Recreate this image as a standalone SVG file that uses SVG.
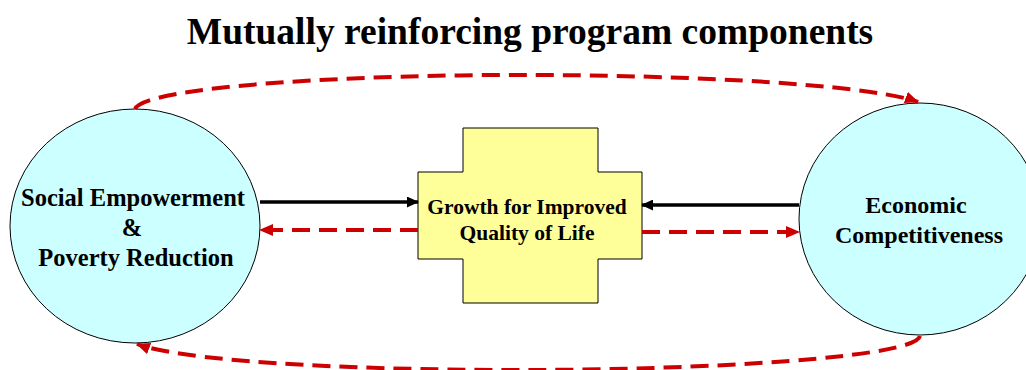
<svg xmlns="http://www.w3.org/2000/svg" width="1026" height="370" viewBox="0 0 1026 370">
<style>
.t{font-family:"Liberation Serif","Times New Roman",serif;font-weight:bold;fill:#000;text-anchor:middle}
.red{fill:none;stroke:#CC0000;stroke-width:4;stroke-dasharray:18 9}
.blk{fill:none;stroke:#000;stroke-width:3.5}
.node{stroke:#000;stroke-width:1}
</style>
<defs>
<marker id="ar" markerUnits="userSpaceOnUse" markerWidth="14" markerHeight="12" refX="13" refY="6" orient="auto">
<path d="M0,0 L14,6 L0,12 Z" fill="#CC0000"/>
</marker>
<marker id="ab" markerUnits="userSpaceOnUse" markerWidth="12" markerHeight="11" refX="11" refY="5.5" orient="auto">
<path d="M0,0 L12,5.5 L0,11 Z" fill="#000"/>
</marker>
</defs>
<rect width="1026" height="370" fill="#fff"/>
<text class="t" x="530" y="44" font-size="37.5">Mutually reinforcing program components</text>
<g id="social">
<ellipse class="node" cx="135" cy="226" rx="125" ry="117" fill="#CCFFFF"/>
<text class="t" x="133" y="206" font-size="24.5">Social Empowerment</text>
<text class="t" x="132" y="236" font-size="24.5">&amp;</text>
<text class="t" x="136" y="266" font-size="24.5">Poverty Reduction</text>
</g>
<g id="economic">
<ellipse class="node" cx="920" cy="219" rx="121" ry="116" fill="#CCFFFF"/>
<text class="t" x="916" y="213" font-size="24">Economic</text>
<text class="t" x="919" y="243" font-size="24">Competitiveness</text>
</g>
<g id="growth">
<path class="node" d="M463,128 H598 V172 H642 V259 H598 V303 H463 V259 H418 V172 H463 Z" fill="#FFFF99"/>
<text class="t" x="527" y="214" font-size="21.5">Growth for Improved</text>
<text class="t" x="527" y="240" font-size="21.5">Quality of Life</text>
</g>
<g id="connectors">
<line class="blk" x1="260" y1="202" x2="418" y2="202" marker-end="url(#ab)"/>
<line class="blk" x1="799" y1="205" x2="642" y2="205" marker-end="url(#ab)"/>
<line class="red" x1="418" y1="230" x2="260" y2="230" marker-end="url(#ar)"/>
<line class="red" x1="642" y1="232" x2="799" y2="232" marker-end="url(#ar)"/>
<path class="red" d="M135,109 C145,86 360,74 540,75 C740,76 880,88 918,102" marker-end="url(#ar)"/>
<path class="red" d="M920,336 C915,358 700,370 520,370 C330,370 180,360 137,344" marker-end="url(#ar)"/>
</g>
</svg>
